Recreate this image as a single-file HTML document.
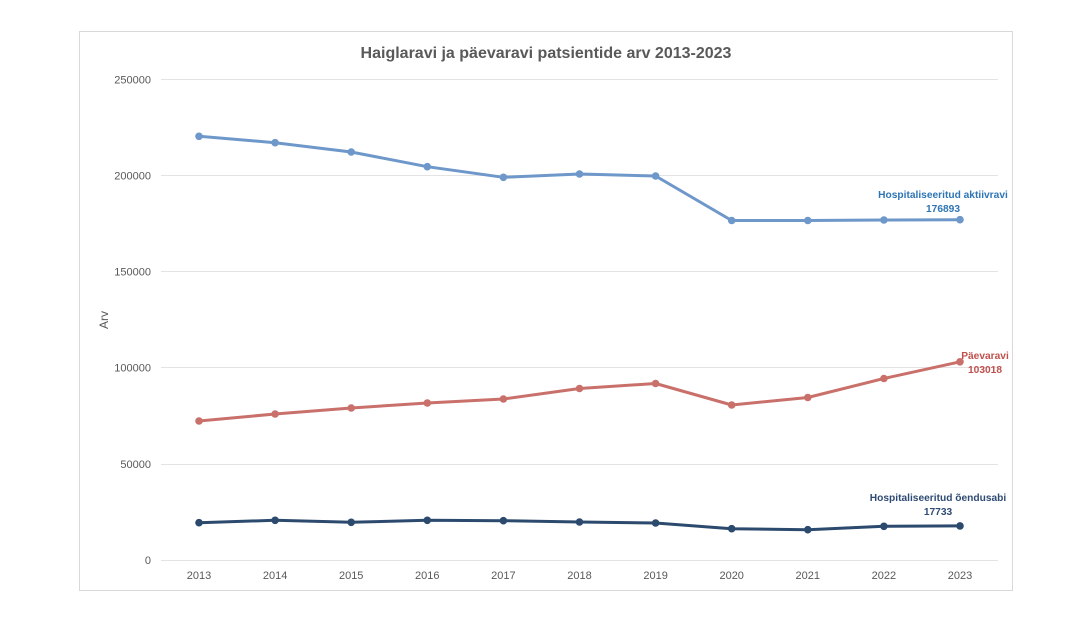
<!DOCTYPE html>
<html><head><meta charset="utf-8"><style>
html,body{margin:0;padding:0;background:#fff;}
svg{display:block;font-family:"Liberation Sans",sans-serif;}
</style></head><body>
<svg width="1087" height="629" viewBox="0 0 1087 629" xmlns="http://www.w3.org/2000/svg">
<rect x="0" y="0" width="1087" height="629" fill="#fff"/>
<rect x="79.5" y="31.5" width="933" height="559" fill="#fff" stroke="#d9d9d9" stroke-width="1"/>
<text x="546" y="58" text-anchor="middle" font-size="16" font-weight="bold" fill="#595959">Haiglaravi ja päevaravi patsientide arv 2013-2023</text>
<g stroke="#e3e3e3" stroke-width="1">
<line x1="161" y1="79.5" x2="998" y2="79.5"/>
<line x1="161" y1="175.5" x2="998" y2="175.5"/>
<line x1="161" y1="271.5" x2="998" y2="271.5"/>
<line x1="161" y1="367.5" x2="998" y2="367.5"/>
<line x1="161" y1="464.5" x2="998" y2="464.5"/>
<line x1="161" y1="560.5" x2="998" y2="560.5"/>
</g>
<g font-size="11" fill="#595959" text-anchor="end">
<text x="151" y="83.5">250000</text>
<text x="151" y="179.5">200000</text>
<text x="151" y="275.5">150000</text>
<text x="151" y="371.5">100000</text>
<text x="151" y="468">50000</text>
<text x="151" y="564">0</text>
</g>
<text x="0" y="0" font-size="12" fill="#595959" text-anchor="middle" transform="translate(108,320) rotate(-90)">Arv</text>
<g font-size="11" fill="#595959" text-anchor="middle">
<text x="199" y="579">2013</text>
<text x="275.1" y="579">2014</text>
<text x="351.2" y="579">2015</text>
<text x="427.3" y="579">2016</text>
<text x="503.4" y="579">2017</text>
<text x="579.5" y="579">2018</text>
<text x="655.6" y="579">2019</text>
<text x="731.7" y="579">2020</text>
<text x="807.8" y="579">2021</text>
<text x="883.9" y="579">2022</text>
<text x="960" y="579">2023</text>
</g>
<polyline fill="none" stroke="#6E97CA" stroke-width="3" stroke-linejoin="round" points="199,136.3 275.1,142.7 351.2,152 427.3,166.7 503.4,177.3 579.5,174 655.6,176 731.7,220.5 807.8,220.5 883.9,220 960,219.7"/>
<g fill="#6E97CA">
<circle cx="199" cy="136.3" r="3.8"/><circle cx="275.1" cy="142.7" r="3.8"/><circle cx="351.2" cy="152" r="3.8"/><circle cx="427.3" cy="166.7" r="3.8"/><circle cx="503.4" cy="177.3" r="3.8"/><circle cx="579.5" cy="174" r="3.8"/><circle cx="655.6" cy="176" r="3.8"/><circle cx="731.7" cy="220.5" r="3.8"/><circle cx="807.8" cy="220.5" r="3.8"/><circle cx="883.9" cy="220" r="3.8"/><circle cx="960" cy="219.7" r="3.8"/>
</g>
<polyline fill="none" stroke="#C9706B" stroke-width="3" stroke-linejoin="round" points="199,421 275.1,414 351.2,408 427.3,403 503.4,399 579.5,388.5 655.6,383.5 731.7,405 807.8,397.5 883.9,378.5 960,361.8"/>
<g fill="#C9706B">
<circle cx="199" cy="421" r="3.8"/><circle cx="275.1" cy="414" r="3.8"/><circle cx="351.2" cy="408" r="3.8"/><circle cx="427.3" cy="403" r="3.8"/><circle cx="503.4" cy="399" r="3.8"/><circle cx="579.5" cy="388.5" r="3.8"/><circle cx="655.6" cy="383.5" r="3.8"/><circle cx="731.7" cy="405" r="3.8"/><circle cx="807.8" cy="397.5" r="3.8"/><circle cx="883.9" cy="378.5" r="3.8"/><circle cx="960" cy="361.8" r="3.8"/>
</g>
<polyline fill="none" stroke="#2C4A6E" stroke-width="3" stroke-linejoin="round" points="199,522.7 275.1,520.3 351.2,522.3 427.3,520.3 503.4,520.7 579.5,522 655.6,523 731.7,528.7 807.8,529.7 883.9,526.3 960,525.9"/>
<g fill="#2C4A6E">
<circle cx="199" cy="522.7" r="3.8"/><circle cx="275.1" cy="520.3" r="3.8"/><circle cx="351.2" cy="522.3" r="3.8"/><circle cx="427.3" cy="520.3" r="3.8"/><circle cx="503.4" cy="520.7" r="3.8"/><circle cx="579.5" cy="522" r="3.8"/><circle cx="655.6" cy="523" r="3.8"/><circle cx="731.7" cy="528.7" r="3.8"/><circle cx="807.8" cy="529.7" r="3.8"/><circle cx="883.9" cy="526.3" r="3.8"/><circle cx="960" cy="525.9" r="3.8"/>
</g>
<g font-size="10.2" font-weight="bold" text-anchor="middle">
<text x="943" y="198" fill="#2E75B6">Hospitaliseeritud aktiivravi</text>
<text x="943" y="212" fill="#2E75B6">176893</text>
<text x="985" y="359" fill="#C0504D">Päevaravi</text>
<text x="985" y="373" fill="#C0504D">103018</text>
<text x="938" y="501" fill="#2F4B73">Hospitaliseeritud õendusabi</text>
<text x="938" y="515" fill="#2F4B73">17733</text>
</g>
</svg>
</body></html>
